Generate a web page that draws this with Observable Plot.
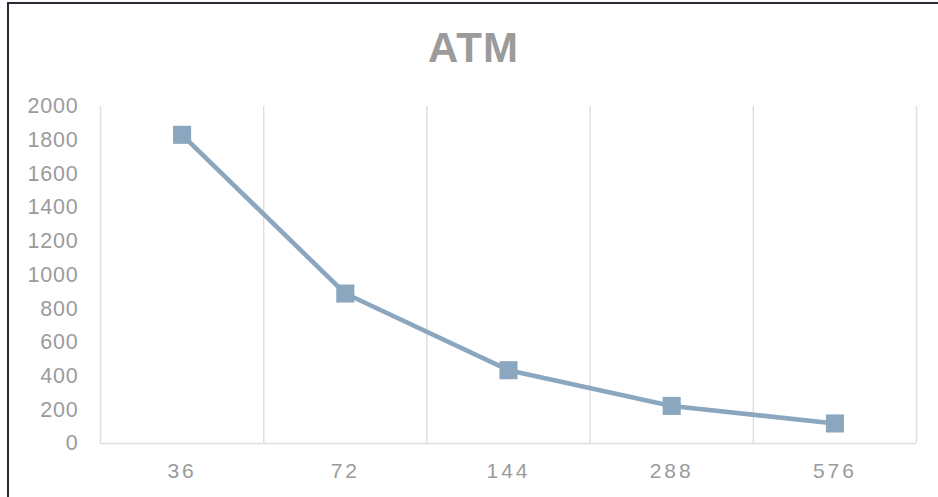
<!DOCTYPE html>
<html>
<head>
<meta charset="utf-8">
<script src="https://cdn.jsdelivr.net/npm/d3@7"></script>
<script src="https://cdn.jsdelivr.net/npm/@observablehq/plot@0.6"></script>
<style>
  html, body { margin: 0; padding: 0; background: #fff; overflow: hidden; }
  #wrap { position: relative; width: 938px; height: 497px; overflow: hidden; }
  .edge { position: absolute; background: #262b36; z-index: 3; }
  #edge-left { left: 7px; top: 2px; width: 2px; height: 495px; }
  #edge-top { left: 7px; top: 2px; width: 931px; height: 2px; }
  #title {
    position: absolute; left: 0; top: 27px; width: 947px; text-align: center;
    font: bold 42px "Liberation Sans", Arial, sans-serif; line-height: 42px;
    color: #9b9b9b; letter-spacing: 1px; z-index: 2;
  }
  #chart { position: absolute; left: 0; top: 0; }
  #chart g[aria-label="x-axis tick label"] text { letter-spacing: 3px; font-size: 21px; }
  #chart g[aria-label="y-axis tick label"] text { letter-spacing: 0.8px; font-size: 21.5px; }
</style>
</head>
<body>
<div id="wrap">
  <div class="edge" id="edge-left"></div>
  <div class="edge" id="edge-top"></div>
  <div id="title">ATM</div>
  <div id="chart"></div>
</div>
<script>
// Categories along the bottom and the ATM value for each one
const categories = ["36", "72", "144", "288", "576"];
const values = [1832, 890, 435, 223, 119];
const yTicks = [0, 200, 400, 600, 800, 1000, 1200, 1400, 1600, 1800, 2000];

const rows = categories.map((c, i) => ({i, c, v: values[i]}));
// category boundaries for the vertical gridlines
const bounds = d3.range(categories.length + 1).map(k => k - 0.5);

const color = "#8aa7bf";
const textColor = "#9b9b9b";
const font = "'Liberation Sans', Arial, sans-serif";

const chart = Plot.plot({
  width: 938,
  height: 497,
  marginLeft: 100,
  marginRight: 22,
  marginTop: 106,
  marginBottom: 54,
  style: {fontFamily: font, background: "transparent", overflow: "visible"},
  x: {type: "linear", domain: [-0.5, categories.length - 0.5]},
  y: {domain: [0, 2000]},
  marks: [
    Plot.ruleX(bounds, {x: d => d, y1: 0, y2: 2000, stroke: "#dedede", strokeWidth: 1.4}),
    Plot.ruleY([0], {stroke: "#dedede", strokeWidth: 1.6}),
    Plot.axisY({
      ticks: yTicks, tickFormat: d => String(d), tickSize: 0, tickPadding: 22, label: null,
      fontSize: 21.5, fill: textColor
    }),
    Plot.axisX({
      ticks: d3.range(categories.length), tickFormat: i => categories[i],
      tickSize: 0, tickPadding: 20, label: null, fontSize: 21, fill: textColor
    }),
    Plot.line(rows, {x: "i", y: "v", stroke: color, strokeWidth: 4.6, strokeLinejoin: "round"}),
    Plot.dot(rows, {x: "i", y: "v", symbol: "square", r: 10.2, fill: color, stroke: "none"})
  ]
});

document.getElementById("chart").appendChild(chart);
</script>
</body>
</html>
